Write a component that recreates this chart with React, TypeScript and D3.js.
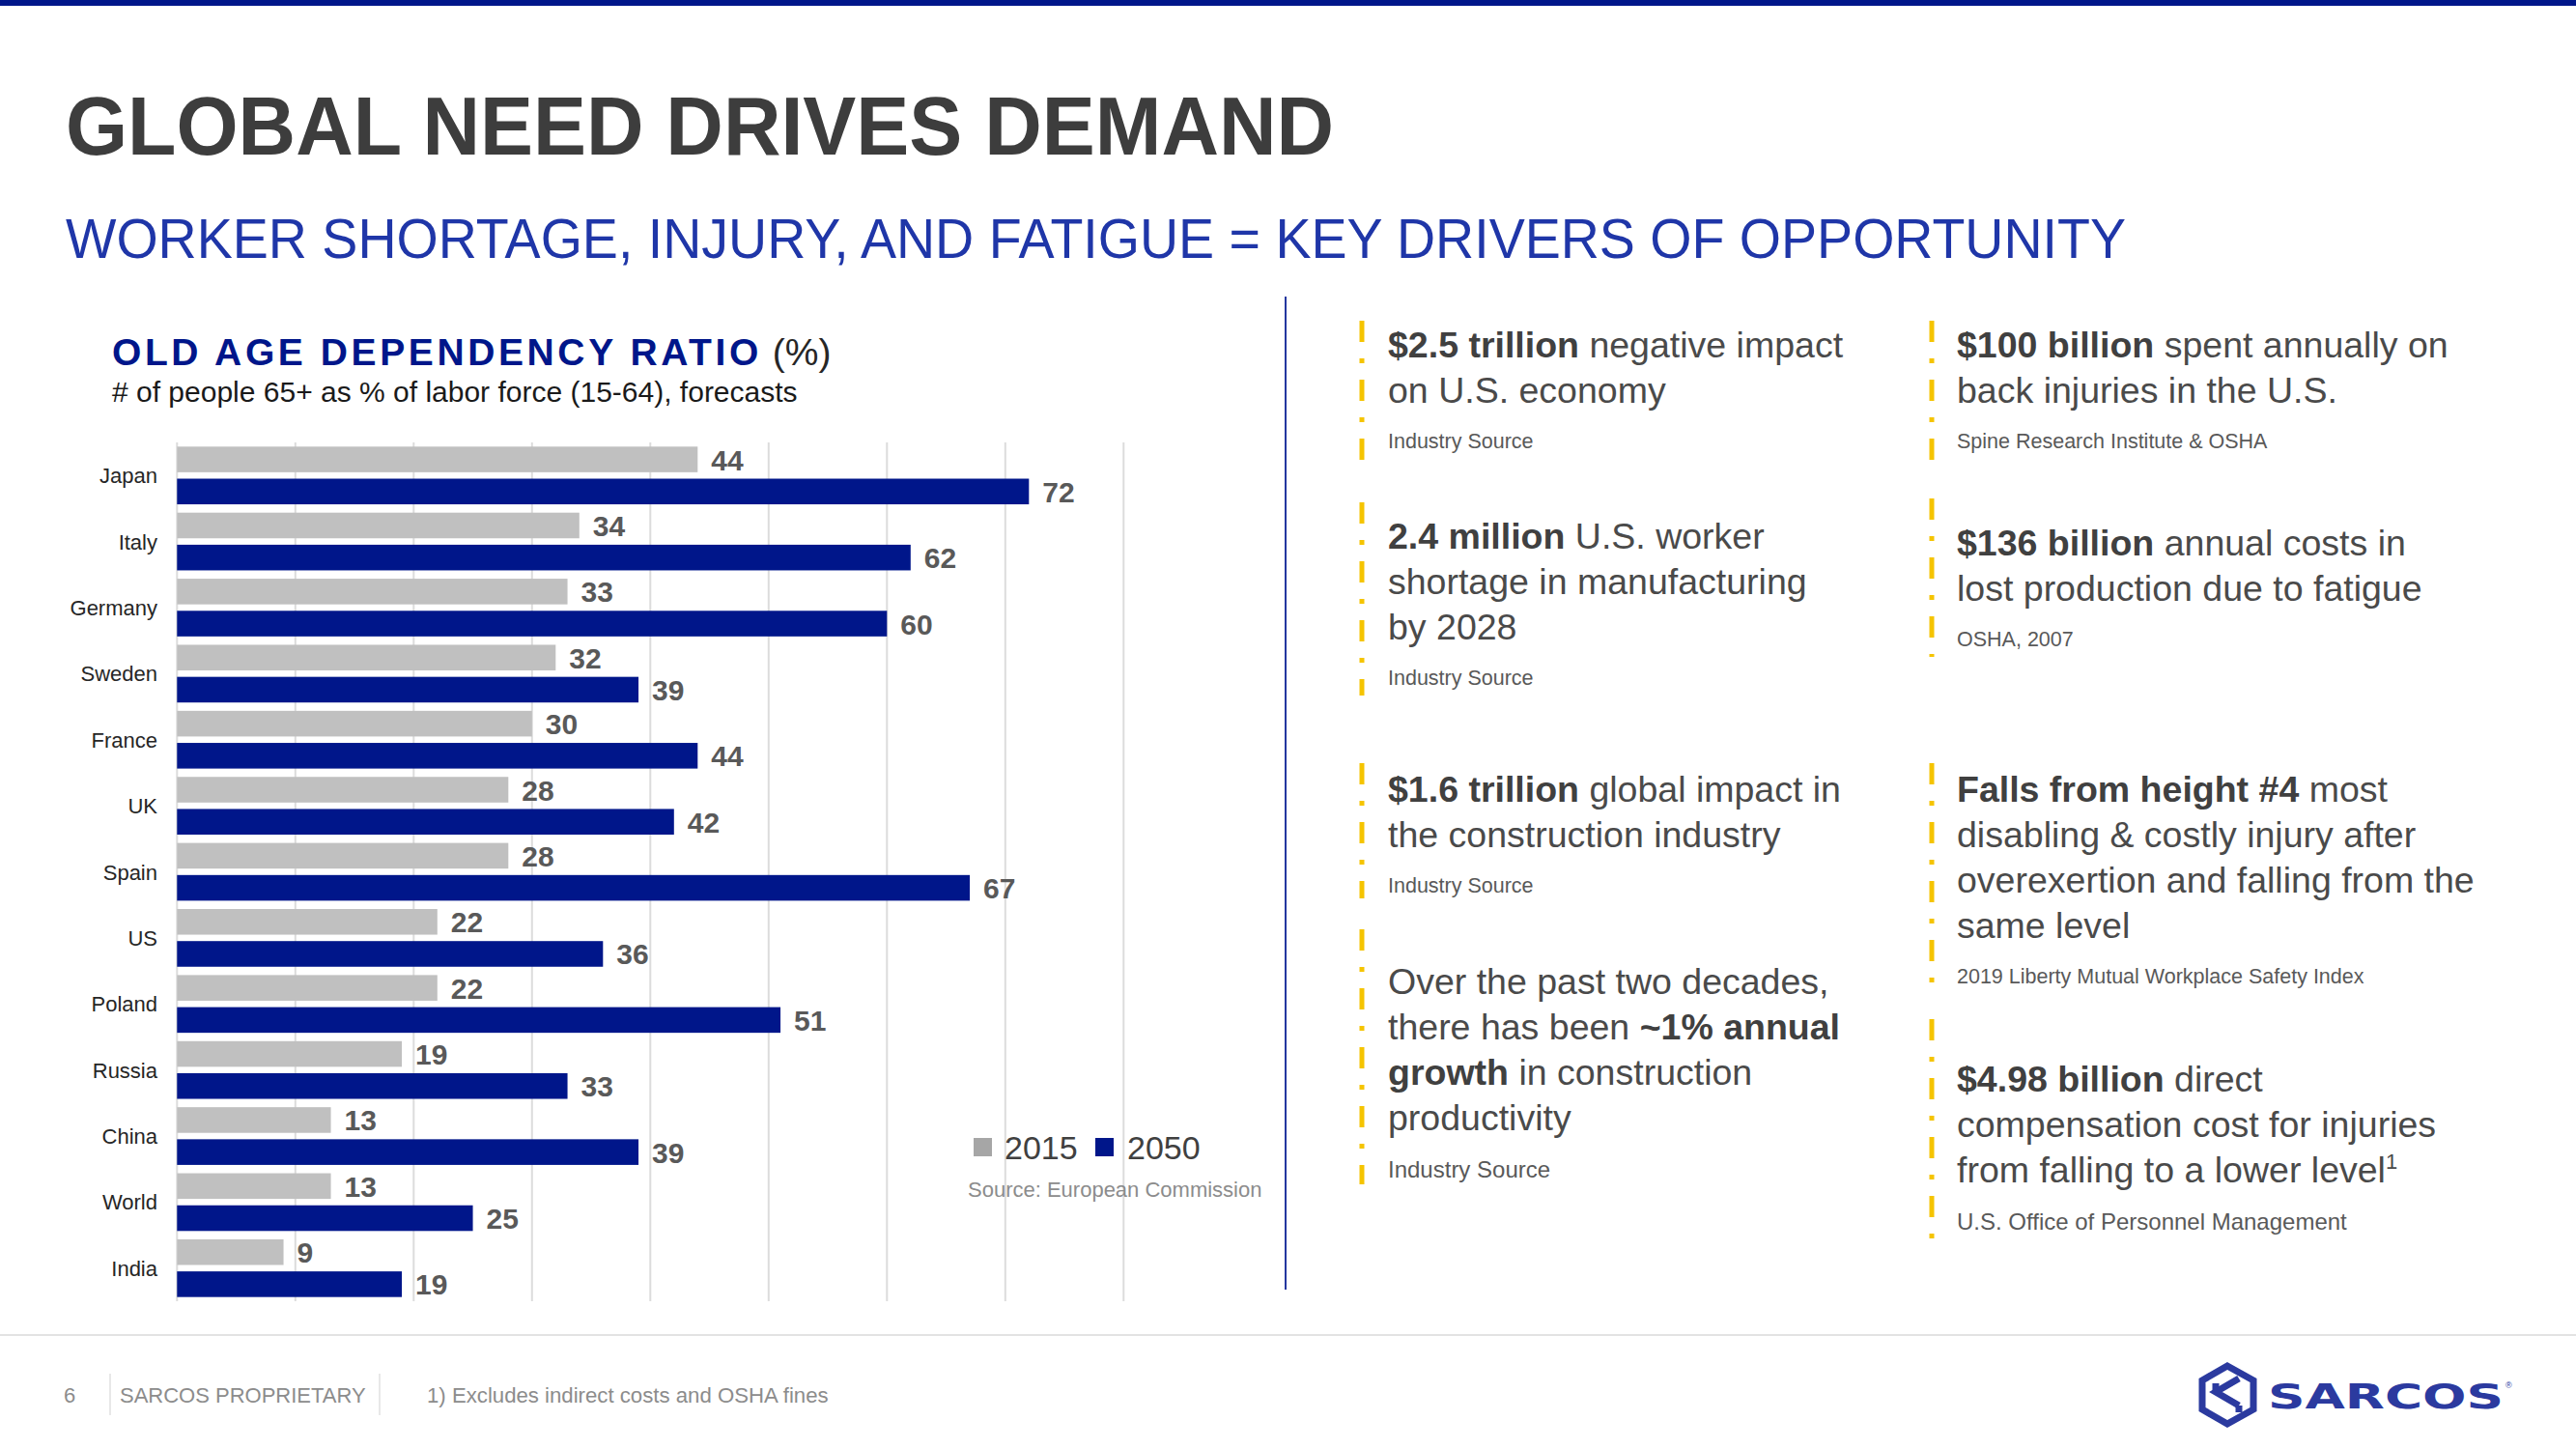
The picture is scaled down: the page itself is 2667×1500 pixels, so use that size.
import React, { useEffect } from "react";
import * as d3 from "d3";

const categories = ["Japan", "Italy", "Germany", "Sweden", "France", "UK", "Spain", "US", "Poland", "Russia", "China", "World", "India"];
const values2015 = [44, 34, 33, 32, 30, 28, 28, 22, 22, 19, 13, 13, 9];
const values2050 = [72, 62, 60, 39, 44, 42, 67, 36, 51, 33, 39, 25, 19];
const seriesNames = ["2015", "2050"];
const gridTicks = [0, 10, 20, 30, 40, 50, 60, 70, 80];

type Seg = [string, boolean];
type Block = { lines: Seg[][]; source: string; sourceSize?: number };

const col1Blocks: Block[] = [
  { lines: [[["$2.5 trillion", true], [" negative impact", false]], [["on U.S. economy", false]]], source: "Industry Source" },
  { lines: [[["2.4 million", true], [" U.S. worker", false]], [["shortage in manufacturing", false]], [["by 2028", false]]], source: "Industry Source" },
  { lines: [[["$1.6 trillion", true], [" global impact in", false]], [["the construction industry", false]]], source: "Industry Source" },
  { lines: [[["Over the past two decades,", false]], [["there has been ", false], ["~1% annual", true]], [["growth", true], [" in construction", false]], [["productivity", false]]], source: "Industry Source", sourceSize: 24 },
];
const col2Blocks: Block[] = [
  { lines: [[["$100 billion", true], [" spent annually on", false]], [["back injuries in the U.S.", false]]], source: "Spine Research Institute & OSHA" },
  { lines: [[["$136 billion", true], [" annual costs in", false]], [["lost production due to fatigue", false]]], source: "OSHA, 2007" },
  { lines: [[["Falls from height #4", true], [" most", false]], [["disabling & costly injury after", false]], [["overexertion and falling from the", false]], [["same level", false]]], source: "2019 Liberty Mutual Workplace Safety Index" },
  { lines: [[["$4.98 billion", true], [" direct", false]], [["compensation cost for injuries", false]], [["from falling to a lower level", false], ["1", false]]], source: "U.S. Office of Personnel Management", sourceSize: 24 },
];
const col1Starts = [370, 568, 830, 1029];
const col2Starts = [370, 575, 830, 1130];
const col1Bars: [number, number][] = [[332, 480], [520, 720], [790, 930], [962, 1226]];
const col2Bars: [number, number][] = [[332, 480], [516, 680], [790, 1020], [1055, 1290]];

const NAVY = "#00168a";
const GRAY_BAR = "#c0c0c0";
const FONT = "'Liberation Sans', Arial, Helvetica, sans-serif";

export default function App() {
  useEffect(() => {
    document.body.style.margin = "0";
    document.body.style.overflow = "hidden";
  }, []);

  const x = d3.scaleLinear().domain([0, 80]).range([183.3, 1163.3]);
  const y = d3.scaleBand<string>().domain(categories).range([458, 1347]);
  const ys = d3.scaleBand<string>().domain(seriesNames).range([0, y.bandwidth()]).paddingInner(0.2).paddingOuter(0.13);
  const vals = [values2015, values2050];
  const colors = [GRAY_BAR, NAVY];

  const lineH = 47;

  const renderBlocks = (blocks: Block[], starts: number[], tx: number) =>
    blocks.map((b, bi) => {
      const y0 = starts[bi];
      return (
        <g key={bi}>
          {b.lines.map((ln, li) => (
            <text key={li} x={tx} y={y0 + li * lineH} fontFamily={FONT} fontSize={37.5} fill="#4a4a4a">
              {ln.map((s, si) => {
                const isSup = s[0] === "1" && si === ln.length - 1 && si > 0;
                return (
                  <tspan key={si} fontWeight={s[1] ? "bold" : "normal"} fill={s[1] ? "#404040" : "#4a4a4a"} fontSize={isSup ? 22 : 37.5} dy={isSup ? -14 : 0}>
                    {s[0]}
                  </tspan>
                );
              })}
            </text>
          ))}
          <text x={tx} y={y0 + (b.lines.length - 1) * lineH + (b.sourceSize ? 49 : 47)} fontFamily={FONT} fontSize={b.sourceSize || 21.5} fill="#595959">
            {b.source}
          </text>
        </g>
      );
    });

  return (
    <svg width={2667} height={1500} style={{ position: "absolute", left: 0, top: 0, background: "#fff" }}>
      <rect x={0} y={0} width={2667} height={1500} fill="#ffffff" />
      <rect x={0} y={0} width={2667} height={6} fill={NAVY} />

      <text x={68} y={160} fontFamily={FONT} fontWeight="bold" fontSize={85} fill="#3d3d3d" textLength={1313} lengthAdjust="spacingAndGlyphs">
        GLOBAL NEED DRIVES DEMAND
      </text>
      <text x={68} y={267} fontFamily={FONT} fontSize={58} fill="#1f36a8" textLength={2133} lengthAdjust="spacingAndGlyphs">
        WORKER SHORTAGE, INJURY, AND FATIGUE = KEY DRIVERS OF OPPORTUNITY
      </text>

      <text x={116} y={378} fontFamily={FONT} fontSize={39}>
        <tspan fontWeight="bold" fill={NAVY} letterSpacing={3.6}>OLD AGE DEPENDENCY RATIO</tspan>
        <tspan fill="#262626"> (%)</tspan>
      </text>
      <text x={116} y={416} fontFamily={FONT} fontSize={30} fill="#1a1a1a">
        # of people 65+ as % of labor force (15-64), forecasts
      </text>

      {gridTicks.map((t) => (
        <line key={t} x1={x(t)} x2={x(t)} y1={458} y2={1347} stroke="#dcdcdc" strokeWidth={2} />
      ))}

      {categories.map((c, i) => (
        <g key={c}>
          <text x={163} y={(y(c) as number) + y.bandwidth() / 2 + 8} textAnchor="end" fontFamily={FONT} fontSize={22} fill="#262626">
            {c}
          </text>
          {seriesNames.map((s, si) => {
            const by = (y(c) as number) + (ys(s) as number);
            const v = vals[si][i];
            return (
              <g key={s}>
                <rect x={x(0)} y={by} width={x(v) - x(0)} height={ys.bandwidth()} fill={colors[si]} />
                <text x={x(v) + 14} y={by + ys.bandwidth() / 2 + 11} fontFamily={FONT} fontWeight="bold" fontSize={30} fill="#595959">
                  {v}
                </text>
              </g>
            );
          })}
        </g>
      ))}

      <rect x={1008} y={1178} width={19} height={19} fill="#a6a6a6" />
      <text x={1040} y={1200} fontFamily={FONT} fontSize={34} fill="#404040">2015</text>
      <rect x={1134} y={1178} width={19} height={19} fill={NAVY} />
      <text x={1167} y={1200} fontFamily={FONT} fontSize={34} fill="#404040">2050</text>
      <text x={1002} y={1239} fontFamily={FONT} fontSize={22} fill="#8c8c8c">Source: European Commission</text>

      <line x1={1331} x2={1331} y1={307} y2={1335} stroke="#24379f" strokeWidth={2} />

      {col1Bars.map((b, i) => (
        <line key={"a" + i} x1={1410} x2={1410} y1={b[0]} y2={b[1]} stroke="#f5c400" strokeWidth={5} strokeDasharray="22 17 5 17" />
      ))}
      {col2Bars.map((b, i) => (
        <line key={"b" + i} x1={2000} x2={2000} y1={b[0]} y2={b[1]} stroke="#f5c400" strokeWidth={5} strokeDasharray="22 17 5 17" />
      ))}
      {renderBlocks(col1Blocks, col1Starts, 1437)}
      {renderBlocks(col2Blocks, col2Starts, 2026)}

      <line x1={0} x2={2667} y1={1382} y2={1382} stroke="#e3e3e3" strokeWidth={2} />
      <text x={66} y={1452} fontFamily={FONT} fontSize={22} fill="#8c8c8c">6</text>
      <line x1={114} x2={114} y1={1422} y2={1465} stroke="#e0e0e0" strokeWidth={1.5} />
      <text x={124} y={1452} fontFamily={FONT} fontSize={22} fill="#8c8c8c">SARCOS PROPRIETARY</text>
      <line x1={393} x2={393} y1={1422} y2={1465} stroke="#e0e0e0" strokeWidth={1.5} />
      <text x={442} y={1452} fontFamily={FONT} fontSize={22.2} fill="#8c8c8c">1) Excludes indirect costs and OSHA fines</text>

      <g fill="none" stroke="#2b3a9f" strokeLinejoin="miter">
        <path d="M2306,1414 L2333,1429 L2333,1459 L2306,1474 L2280,1459 L2280,1429 Z" strokeWidth={7} />
        <path d="M2318,1427 L2294,1441 L2318,1455" strokeWidth={7} />
        <path d="M2294,1432 L2294,1441" strokeWidth={7} />
        <path d="M2318,1455 L2318,1462" strokeWidth={7} />
      </g>
      <text x={2348} y={1458} fontFamily="'DejaVu Sans', sans-serif" fontWeight="bold" fontSize={35} fill="#2b3a9f" textLength={244} lengthAdjust="spacingAndGlyphs">
        SARCOS
      </text>
      <text x={2594} y={1437} fontFamily={FONT} fontSize={9} fill="#2b3a9f">®</text>
    </svg>
  );
}
